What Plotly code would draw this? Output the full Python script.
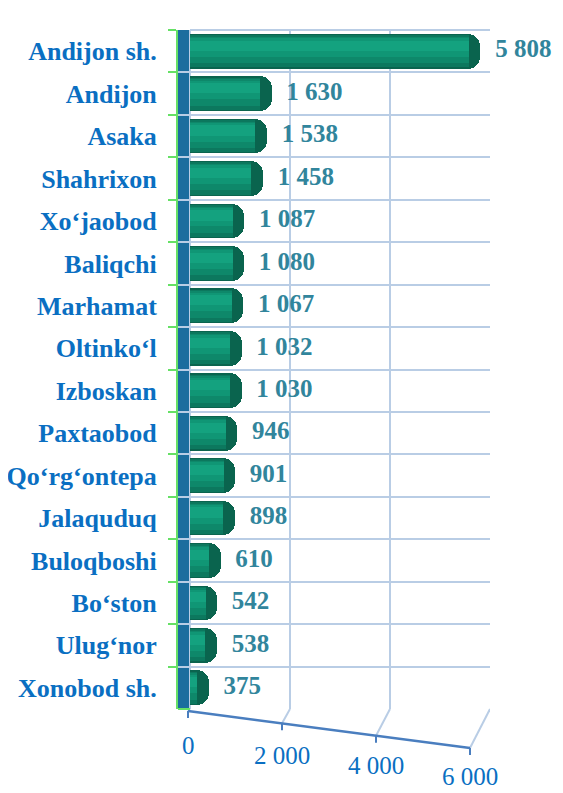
import plotly.graph_objects as go

categories = ["Andijon sh.", "Andijon", "Asaka", "Shahrixon", "Xo‘jaobod", "Baliqchi",
              "Marhamat", "Oltinko‘l", "Izboskan", "Paxtaobod", "Qo‘rg‘ontepa", "Jalaquduq",
              "Buloqboshi", "Bo‘ston", "Ulug‘nor", "Xonobod sh."]
values = [5808, 1630, 1538, 1458, 1087, 1080, 1067, 1032, 1030, 946, 901, 898, 610, 542, 538, 375]
x_ticks = [0, 2000, 4000, 6000]

SERIF = "Liberation Serif, Times New Roman, serif"
CAT_BLUE = "#0a6fc2"
VAL_TEAL = "#31859c"
GRID = "#b9cde5"

# page body has an 8px default margin -> figure drawn 8px in from the window corner
OFF = 8
W, H = 563 - OFF, 793 - OFF
M = dict(l=178 - OFF, r=73, t=30 - OFF, b=84)
plot_h = H - M["t"] - M["b"]
bottom_px = H - M["b"]


def py(p):
    """reference window pixel (y) -> paper coordinate"""
    return (bottom_px - (p - OFF)) / plot_h


def front_x(v):
    return 0.94 * v - 40


fig = go.Figure()

cap = 230
body = [v - cap for v in values]
# cylinder layers: (x values, thickness, offset, colour)
layers = [
    (values, 0.82, None, "#0a644e"),
    (body, 0.76, None, "#0c785e"),
    (body, 0.62, -0.34, "#0e886a"),
    (body, 0.44, -0.31, "#109675"),
    (body, 0.24, -0.25, "#14a27f"),
]
for i, (xs, wd, off, col) in enumerate(layers):
    mk = dict(color=col, line=dict(width=0))
    if i == 0:
        mk["cornerradius"] = 12
    kw = dict(offset=off) if off is not None else {}
    fig.add_trace(go.Bar(y=categories, x=xs, orientation="h", width=wd, marker=mk,
                         hoverinfo="skip", showlegend=False, **kw))

# value labels
fig.add_trace(go.Scatter(y=categories, x=values, mode="markers+text",
                         marker=dict(size=22, opacity=0),
                         texttemplate="%{x:,}", textposition="middle right",
                         textfont=dict(family=SERIF, size=25, color=VAL_TEAL, weight="bold"),
                         cliponaxis=False, hoverinfo="skip", showlegend=False))

shapes = []
# left wall
shapes.append(dict(type="rect", xref="x", yref="paper", x0=-240, x1=0, y0=0, y1=1,
                   fillcolor="#1b6d9e", line=dict(width=0), layer="below"))
# top border
shapes.append(dict(type="line", xref="x", yref="paper", x0=0, x1=6000, y0=1, y1=1,
                   line=dict(color=GRID, width=2)))
# floor
y_front = [py(711 + v / 6000 * 37) for v in x_ticks]
for v, yf in zip(x_ticks, y_front):
    shapes.append(dict(type="line", xref="x", yref="paper", x0=v, y0=0, x1=front_x(v), y1=yf,
                       line=dict(color=GRID, width=2)))
    shapes.append(dict(type="line", xref="x", yref="paper", x0=front_x(v), y0=yf,
                       x1=front_x(v), y1=yf - 7 / plot_h,
                       line=dict(color="#4a7ebf", width=2)))
shapes.append(dict(type="line", xref="x", yref="paper", x0=front_x(x_ticks[0]), y0=y_front[0],
                   x1=front_x(x_ticks[-1]), y1=y_front[-1], line=dict(color="#4a7ebf", width=2.5)))
shapes.append(dict(type="line", xref="x", yref="paper", x0=-240, y0=0, x1=0, y1=0,
                   line=dict(color="#66e066", width=2)))

annotations = []
for v in x_ticks:
    annotations.append(dict(xref="x", yref="paper", x=front_x(v), y=py(745 + v / 6000 * 31),
                            text=f"{v:,}".replace(",", " "), showarrow=False,
                            xanchor="center", yanchor="middle",
                            font=dict(family=SERIF, size=25, color=CAT_BLUE)))

fig.update_layout(
    width=W, height=H, margin=M,
    paper_bgcolor="white", plot_bgcolor="white",
    barmode="overlay", bargap=0, separators=". ",
    shapes=shapes, annotations=annotations,
    xaxis=dict(range=[-240, 6000], tickvals=x_ticks, showticklabels=False,
               showgrid=True, gridcolor=GRID, gridwidth=2, zeroline=False,
               showline=False, fixedrange=True, automargin=False),
    yaxis=dict(type="category", range=[15.5, -0.5], tickson="boundaries",
               ticks="outside", ticklen=8, tickwidth=2, tickcolor="#66e066",
               showline=True, linecolor="#66e066", linewidth=2,
               showgrid=True, gridcolor=GRID, gridwidth=2,
               ticklabelstandoff=14, automargin=False,
               tickfont=dict(family=SERIF, size=26, color=CAT_BLUE, weight="bold")),
)

fig.write_html("out.html")
